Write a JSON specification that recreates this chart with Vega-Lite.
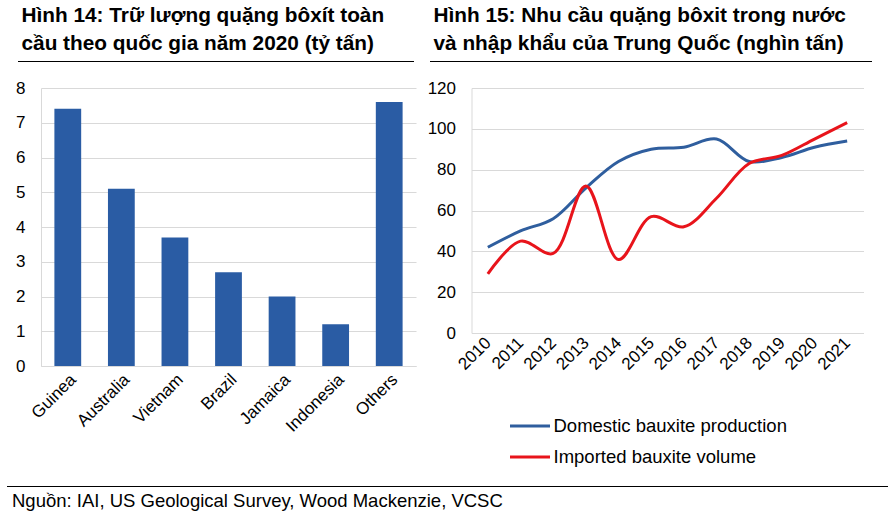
{
  "$schema": "https://vega.github.io/schema/vega-lite/v6.json",
  "background": "white",
  "padding": {"left": 6, "top": 5, "right": 0, "bottom": 0},
  "config": {
    "view": {"stroke": null},
    "font": "Liberation Sans",
    "axis": {"labelColor": "black", "labelFont": "Liberation Sans", "ticks": false, "gridColor": "#d9d9d9", "domainColor": "#d9d9d9", "title": null},
    "legend": {"labelFont": "Liberation Sans", "labelColor": "black"}
  },
  "columns": 2,
  "bounds": "flush",
  "spacing": {"row": 20, "column": 55.5},
  "concat": [
    {
      "width": 375,
      "height": 13,
      "title": {"text": ["Hình 14: Trữ lượng quặng bôxít toàn", "cầu theo quốc gia năm 2020 (tỷ tấn)"], "anchor": "start", "frame": "group", "dx": -19.5, "dy": 21, "offset": 1, "fontSize": 20.8, "fontWeight": "bold", "lineHeight": 27.8, "color": "black", "font": "Liberation Sans", "baseline": "bottom"},
      "data": {"values": [{"a": 0, "b": 1}]},
      "mark": {"type": "rule", "color": "black", "strokeWidth": 1.2},
      "encoding": {
        "x": {"field": "a", "type": "quantitative", "scale": {"domain": [0, 1], "range": [-23, 373]}, "axis": null},
        "x2": {"field": "b"}
      }
    },
    {
      "width": 392,
      "height": 13,
      "title": {"text": ["Hình 15:  Nhu cầu quặng bôxit trong nước", "và nhập khẩu của Trung Quốc (nghìn tấn)"], "anchor": "start", "frame": "group", "dx": -38, "dy": 21, "offset": 1, "fontSize": 20.8, "fontWeight": "bold", "lineHeight": 27.8, "color": "black", "font": "Liberation Sans", "baseline": "bottom"},
      "data": {"values": [{"a": 0, "b": 1}]},
      "mark": {"type": "rule", "color": "black", "strokeWidth": 1.2},
      "encoding": {
        "x": {"field": "a", "type": "quantitative", "scale": {"domain": [0, 1], "range": [-41.5, 400.5]}, "axis": null},
        "x2": {"field": "b"}
      }
    },
    {
      "width": 375,
      "height": 278,
      "data": {"values": [
        {"country": "Guinea", "value": 7.4},
        {"country": "Australia", "value": 5.1},
        {"country": "Vietnam", "value": 3.7},
        {"country": "Brazil", "value": 2.7},
        {"country": "Jamaica", "value": 2.0},
        {"country": "Indonesia", "value": 1.2},
        {"country": "Others", "value": 7.6}
      ]},
      "mark": {"type": "bar", "color": "#2A5CA4"},
      "encoding": {
        "x": {"field": "country", "type": "nominal", "sort": null, "scale": {"paddingInner": 0.5, "paddingOuter": 0.25}, "axis": {"labelAngle": -45, "labelFontSize": 17, "labelPadding": 5}},
        "y": {"field": "value", "type": "quantitative", "scale": {"domain": [0, 8]}, "axis": {"values": [0, 1, 2, 3, 4, 5, 6, 7, 8], "labelFontSize": 17, "labelPadding": 16}}
      }
    },
    {
      "width": 392,
      "height": 245,
      "data": {"values": [
        {"year": "2010", "series": "Domestic bauxite production", "value": 42},
        {"year": "2011", "series": "Domestic bauxite production", "value": 50},
        {"year": "2012", "series": "Domestic bauxite production", "value": 56},
        {"year": "2013", "series": "Domestic bauxite production", "value": 71},
        {"year": "2014", "series": "Domestic bauxite production", "value": 84},
        {"year": "2015", "series": "Domestic bauxite production", "value": 90},
        {"year": "2016", "series": "Domestic bauxite production", "value": 91},
        {"year": "2017", "series": "Domestic bauxite production", "value": 95},
        {"year": "2018", "series": "Domestic bauxite production", "value": 84},
        {"year": "2019", "series": "Domestic bauxite production", "value": 86},
        {"year": "2020", "series": "Domestic bauxite production", "value": 91},
        {"year": "2021", "series": "Domestic bauxite production", "value": 94},
        {"year": "2010", "series": "Imported bauxite volume", "value": 29},
        {"year": "2011", "series": "Imported bauxite volume", "value": 45},
        {"year": "2012", "series": "Imported bauxite volume", "value": 39},
        {"year": "2013", "series": "Imported bauxite volume", "value": 72},
        {"year": "2014", "series": "Imported bauxite volume", "value": 36},
        {"year": "2015", "series": "Imported bauxite volume", "value": 57},
        {"year": "2016", "series": "Imported bauxite volume", "value": 52},
        {"year": "2017", "series": "Imported bauxite volume", "value": 66},
        {"year": "2018", "series": "Imported bauxite volume", "value": 83},
        {"year": "2019", "series": "Imported bauxite volume", "value": 87},
        {"year": "2020", "series": "Imported bauxite volume", "value": 95},
        {"year": "2021", "series": "Imported bauxite volume", "value": 103}
      ]},
      "mark": {"type": "line", "interpolate": "catmull-rom", "strokeWidth": 3},
      "encoding": {
        "x": {"field": "year", "type": "ordinal", "scale": {"type": "point", "padding": 0.5}, "axis": {"labelAngle": -45, "labelFontSize": 17, "labelPadding": 7, "labelBaseline": "middle"}},
        "y": {"field": "value", "type": "quantitative", "scale": {"domain": [0, 120]}, "axis": {"values": [0, 20, 40, 60, 80, 100, 120], "labelFontSize": 17, "labelPadding": 16}},
        "color": {"field": "series", "type": "nominal", "scale": {"domain": ["Domestic bauxite production", "Imported bauxite volume"], "range": ["#2F5E9E", "#E8141B"]}, "legend": {"orient": "none", "legendX": 467.5, "legendY": 349.5, "title": null, "symbolType": "stroke", "symbolSize": 1600, "symbolStrokeWidth": 3, "labelFontSize": 18.5, "labelLimit": 500, "rowPadding": -9, "labelOffset": 2, "padding": 0}}
      }
    },
    {
      "width": 375,
      "height": 201,
      "data": {"values": [{"a": 0, "b": 1, "label": "Nguồn: IAI, US Geological Survey, Wood Mackenzie, VCSC"}]},
      "encoding": {
        "x": {"field": "a", "type": "quantitative", "scale": {"domain": [0, 1], "range": [-34, 847]}, "axis": null}
      },
      "layer": [
        {"mark": {"type": "rule", "color": "black", "strokeWidth": 1.2}, "encoding": {"x2": {"field": "b"}}},
        {"mark": {"type": "text", "align": "left", "baseline": "alphabetic", "dx": 5, "dy": 20, "fontSize": 18.5, "color": "black", "font": "Liberation Sans"}, "encoding": {"text": {"field": "label"}}}
      ]
    }
  ]
}
